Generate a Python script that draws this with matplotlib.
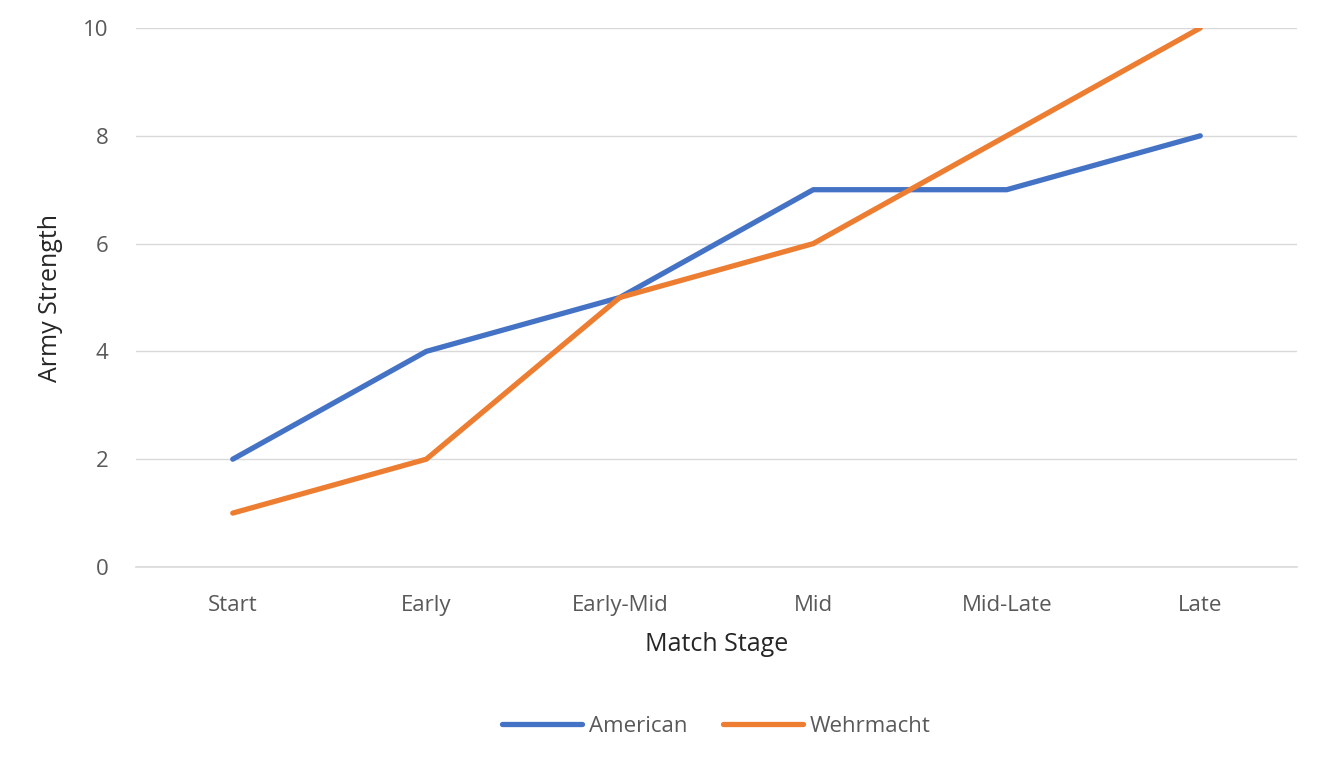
import numpy as np
import matplotlib.pyplot as plt

plt.rcParams['font.family'] = ['Open Sans', 'DejaVu Sans']

# Data
stages = ["Start", "Early", "Early-Mid", "Mid", "Mid-Late", "Late"]
american = [2, 4, 5, 7, 7, 8]
wehrmacht = [1, 2, 5, 6, 8, 10]

text_color = "#595959"
grid_color = "#D9D9D9"

fig = plt.figure(figsize=(13.28, 7.70), dpi=100)
ax = fig.add_axes([136 / 1328, 1 - 567 / 770, (1297 - 136) / 1328, (567 - 28) / 770])

x = np.arange(len(stages))
ax.plot(x, american, color="#4472C4", lw=3.8, label="American", solid_capstyle="round", solid_joinstyle="round")
ax.plot(x, wehrmacht, color="#ED7D31", lw=3.8, label="Wehrmacht", solid_capstyle="round", solid_joinstyle="round")

ax.set_xlim(-0.5, len(stages) - 0.5)
ax.set_ylim(0, 10)
ax.set_yticks(range(0, 11, 2))
ax.set_xticks(x)
ax.set_xticklabels(stages)
ax.grid(axis="y", color=grid_color, lw=1)
ax.axhline(0, color=grid_color, lw=1.2, clip_on=False, zorder=0)
ax.set_axisbelow(True)
for s in ax.spines.values():
    s.set_visible(False)
ax.tick_params(length=0, labelsize=16, colors=text_color)
ax.tick_params(axis="y", pad=20)
ax.tick_params(axis="x", pad=20)

ax.set_xlabel("Match Stage", fontsize=18, color="#262626", labelpad=12)
ax.set_ylabel("Army Strength", fontsize=18, color="#262626", labelpad=14)

ax.legend(loc="center", bbox_to_anchor=(0.5, -0.295), ncol=2, frameon=False,
          fontsize=16, labelcolor=text_color, handlelength=3.6, handletextpad=0.3,
          columnspacing=1.6)

fig.savefig("out.png", dpi=100)
